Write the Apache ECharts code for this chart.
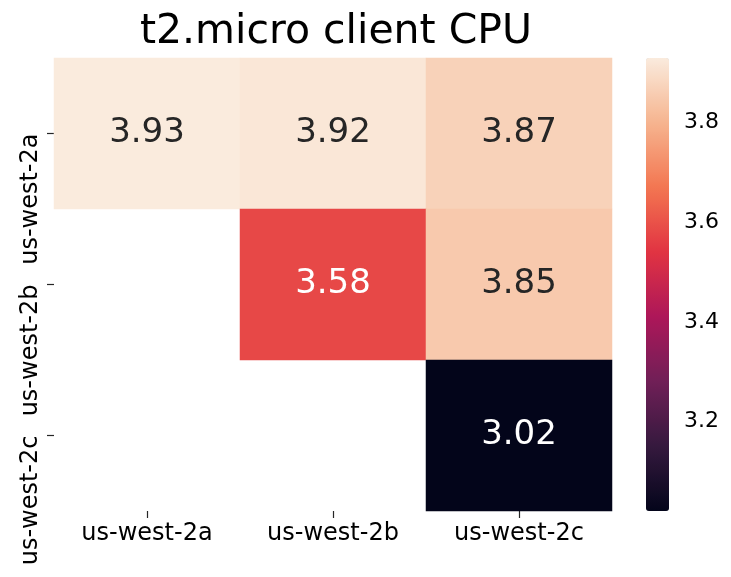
<!DOCTYPE html>
<html>
<head>
<meta charset="utf-8">
<script src="https://cdn.jsdelivr.net/npm/echarts@6/dist/echarts.min.js"></script>
<style>html,body{margin:0;padding:0;background:#fff}#c{width:731px;height:577px}</style>
</head>
<body>
<div id="c"></div>
<script>
const xCategories = ['us-west-2a', 'us-west-2b', 'us-west-2c'];
const yCategories = ['us-west-2a', 'us-west-2b', 'us-west-2c'];
// [xIndex, yIndex, value]
const cellValues = [
  [0, 0, 3.93], [1, 0, 3.92], [2, 0, 3.87],
  [1, 1, 3.58], [2, 1, 3.85],
  [2, 2, 3.02]
];
const colorbarTicks = [3.2, 3.4, 3.6, 3.8];
const valueMin = 3.02;
const valueMax = 3.93;
const rocketStops = ['#03051a', '#35193e', '#701f57', '#ad1759', '#e13342', '#f37651', '#f6b48f', '#faebdd'];

const FONT = 'DejaVu Sans';
const dataWithLabels = cellValues.map(d => {
  const t = (d[2] - valueMin) / (valueMax - valueMin);
  return {value: d, label: {color: t < 0.7 ? '#ffffff' : '#262626'}};
});
const tickStyle = {color: '#262626', width: 1.2};
const chart = echarts.init(document.getElementById('c'), null, {renderer: 'canvas'});
chart.setOption({
  animation: false,
  backgroundColor: '#ffffff',
  textStyle: {fontFamily: FONT},
  title: {
    text: 't2.micro client CPU',
    left: 331, textAlign: 'center', top: 7,
    textStyle: {fontFamily: FONT, fontSize: 41, fontWeight: 'normal', color: '#000'}
  },
  grid: [
    {left: 54, top: 58, width: 558, height: 453},
    {left: 646, top: 58, width: 23, height: 453}
  ],
  xAxis: [
    {type: 'category', data: xCategories, gridIndex: 0, position: 'bottom',
     axisLine: {show: false}, splitLine: {show: false},
     axisTick: {show: true, alignWithLabel: true, length: 7, lineStyle: tickStyle},
     axisLabel: {fontFamily: FONT, fontSize: 24, color: '#000', margin: 11, interval: 0}},
    {type: 'value', gridIndex: 1, show: false, min: 0, max: 1}
  ],
  yAxis: [
    {type: 'category', data: yCategories, gridIndex: 0, inverse: true,
     axisLine: {show: false}, splitLine: {show: false},
     axisTick: {show: true, alignWithLabel: true, length: 7, lineStyle: tickStyle},
     axisLabel: {fontFamily: FONT, fontSize: 24, color: '#000', rotate: 90, margin: 11,
       align: 'right', verticalAlign: 'bottom',
       interval: 0, hideOverlap: false}},
    {type: 'value', gridIndex: 1, position: 'right', min: valueMin, max: valueMax,
     axisLine: {show: false}, splitLine: {show: false},
     axisTick: {show: true, length: 7, customValues: colorbarTicks, lineStyle: tickStyle},
     axisLabel: {fontFamily: FONT, fontSize: 22, color: '#000', margin: 15, customValues: colorbarTicks,
       formatter: v => v.toFixed(1)}}
  ],
  visualMap: {
    type: 'continuous', min: valueMin, max: valueMax, seriesIndex: 0,
    calculable: false, show: true, orient: 'vertical',
    left: 646, top: 58, padding: 0,
    itemWidth: 23, itemHeight: 453, text: null, hoverLink: false,
    inRange: {color: rocketStops}
  },
  series: [
    {type: 'heatmap', xAxisIndex: 0, yAxisIndex: 0, data: dataWithLabels,
     label: {show: true, fontFamily: FONT, fontSize: 34,
       formatter: p => p.value[2].toFixed(2), color: '#262626'},
     itemStyle: {borderWidth: 0}
    },
    {type: 'scatter', xAxisIndex: 1, yAxisIndex: 1, data: [], silent: true}
  ]
});
</script>
</body>
</html>
